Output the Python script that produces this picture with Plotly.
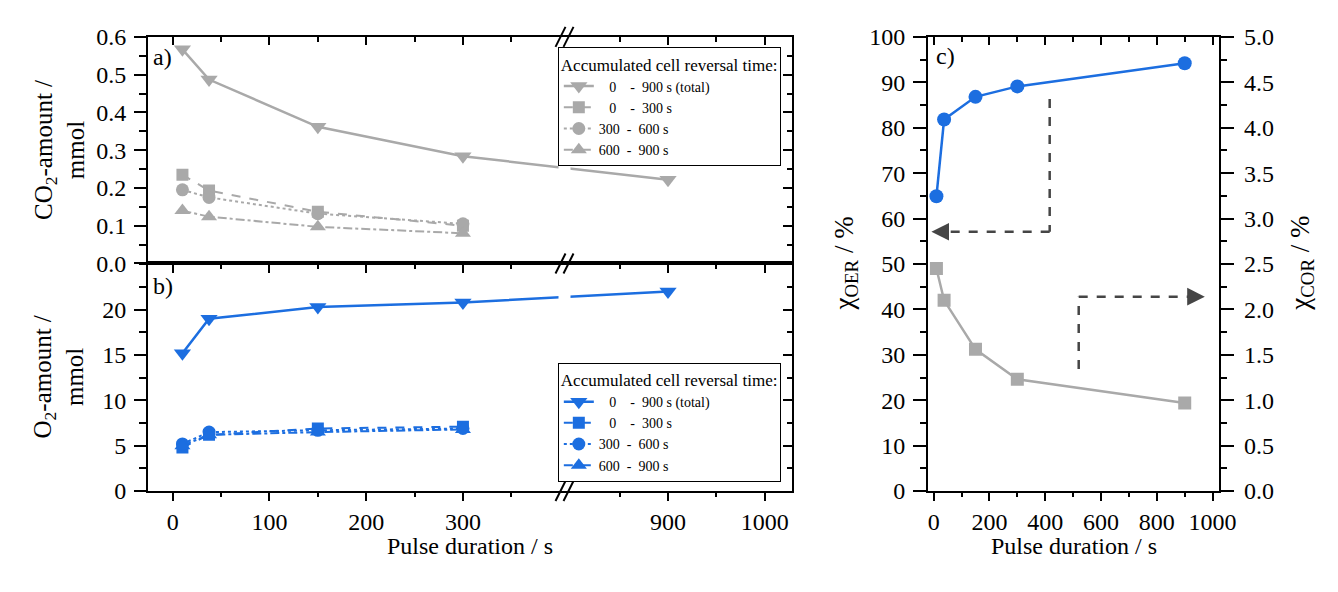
import plotly.graph_objects as go

# ---------------- data ----------------
pulse = [10, 37.5, 150, 300, 900]
pulse_part = [10, 37.5, 150, 300]

co2_total = [0.567, 0.487, 0.362, 0.284, 0.222]
co2_0_300 = [0.235, 0.193, 0.137, 0.100]
co2_300_600 = [0.195, 0.175, 0.132, 0.105]
co2_600_900 = [0.140, 0.124, 0.097, 0.080]

o2_total = [15.2, 19.0, 20.3, 20.8, 22.0]
o2_0_300 = [4.8, 6.2, 6.9, 7.1]
o2_300_600 = [5.2, 6.5, 6.7, 6.9]
o2_600_900 = [5.0, 6.2, 6.5, 6.8]

chi_oer = [64.9, 81.8, 86.8, 89.1, 94.2]
chi_cor = [2.45, 2.10, 1.56, 1.23, 0.97]

x_major = [0, 100, 200, 300, 900, 1000]
x_major_text = ["0", "100", "200", "300", "900", "1000"]
x_minor = [50, 150, 250, 350, 850, 950]

legend_names = [
    "\u00a0\u00a0\u00a00\u00a0\u00a0\u00a0\u00a0-\u00a0\u00a0900 s (total)",
    "\u00a0\u00a0\u00a00\u00a0\u00a0\u00a0\u00a0-\u00a0\u00a0300 s",
    "300\u00a0\u00a0-\u00a0\u00a0600 s",
    "600\u00a0\u00a0-\u00a0\u00a0900 s",
]
legend_title = "Accumulated cell reversal time:"

# ---------------- style ----------------
W, H = 1338, 592
FONT = "Liberation Serif"
GRAY = "#a9a9a9"
BLUE = "#1c6ee0"
ARROW = "#454545"
TICKSIZE = 24

# broken x axis (panels a, b)
BREAK_LO, BREAK_HI = 405, 793
def brk(v):
    return v if v <= BREAK_LO else v - (BREAK_HI - BREAK_LO)
XR_AB = [-25.5, 640]

def fx(px):
    return px / W
def fy(py):
    return 1 - py / H

DOM_AB_X = [fx(150), fx(802)]
DOM_A_Y = [fy(262), fy(25)]
DOM_B_Y = [fy(500), fy(262)]
DOM_C_X = [fx(940), fx(1235)]
DOM_C_Y = [fy(500), fy(25)]

fig = go.Figure()

def series(x, y, name, color, symbol, dash, width, size, xa, ya, leg):
    fig.add_trace(go.Scatter(
        x=[brk(v) for v in x], y=y, name=name, mode="lines+markers",
        line=dict(color=color, width=width, dash=dash),
        marker=dict(color=color, symbol=symbol, size=size),
        xaxis=xa, yaxis=ya, legend=leg))

# panel a
series(pulse, co2_total, legend_names[0], GRAY, "triangle-down", "solid", 2.5, 15, "x", "y", "legend")
series(pulse_part, co2_0_300, legend_names[1], GRAY, "square", "dash", 2, 12, "x", "y", "legend")
series(pulse_part, co2_300_600, legend_names[2], GRAY, "circle", "dot", 2, 13, "x", "y", "legend")
series(pulse_part, co2_600_900, legend_names[3], GRAY, "triangle-up", "dashdot", 2, 14, "x", "y", "legend")
# panel b
series(pulse, o2_total, legend_names[0], BLUE, "triangle-down", "solid", 2.5, 15, "x2", "y2", "legend2")
series(pulse_part, o2_0_300, legend_names[1], BLUE, "square", "dash", 2, 12, "x2", "y2", "legend2")
series(pulse_part, o2_300_600, legend_names[2], BLUE, "circle", "dot", 2, 13, "x2", "y2", "legend2")
series(pulse_part, o2_600_900, legend_names[3], BLUE, "triangle-up", "dashdot", 2, 14, "x2", "y2", "legend2")

# panel c
fig.add_trace(go.Scatter(x=pulse, y=chi_oer, mode="lines+markers", showlegend=False,
                         line=dict(color=BLUE, width=2.5), marker=dict(color=BLUE, size=14),
                         xaxis="x3", yaxis="y3"))
fig.add_trace(go.Scatter(x=pulse, y=chi_cor, mode="lines+markers", showlegend=False,
                         line=dict(color=GRAY, width=2.5),
                         marker=dict(color=GRAY, symbol="square", size=13),
                         xaxis="x3", yaxis="y4"))

# dummy traces so that the mirrored (inside-tick) axes are drawn
for xa, ya in [("x4", "y"), ("x", "y5"), ("x5", "y2"), ("x2", "y6"), ("x6", "y3")]:
    fig.add_trace(go.Scatter(x=[], y=[], xaxis=xa, yaxis=ya, showlegend=False, hoverinfo="skip"))

base = dict(showgrid=False, zeroline=False, showline=True, linecolor="black", linewidth=2,
            tickcolor="black", tickwidth=2,
            tickfont=dict(family=FONT, size=TICKSIZE, color="black"))

def mn(ticks, length, **kw):
    return dict(ticks=ticks, ticklen=length, tickwidth=2, tickcolor="black", **kw)

def xab(dom_anchor, labels, side="bottom", ticks="outside", overlay=None):
    major = 8
    minor = 4 if ticks == "outside" else 5
    d = dict(base, domain=DOM_AB_X, range=XR_AB, anchor=dom_anchor, side=side,
             tickmode="array", tickvals=[brk(v) for v in x_major], ticktext=x_major_text,
             showticklabels=labels, ticks=ticks, ticklen=major, ticklabelstandoff=0,
             minor=mn(ticks, minor, tickmode="array", tickvals=[brk(v) for v in x_minor]))
    if overlay:
        d["overlaying"] = overlay
    return d

layout = dict(
    width=W, height=H, margin=dict(l=0, r=0, t=0, b=0),
    plot_bgcolor="white", paper_bgcolor="white",
    font=dict(family=FONT, color="black"),
    xaxis=xab("y", False),
    xaxis2=xab("y2", True),
    xaxis4=xab("y", False, side="top", ticks="inside", overlay="x"),
    xaxis5=xab("y2", False, side="top", ticks="inside", overlay="x2"),
    yaxis=dict(base, domain=DOM_A_Y, range=[0, 0.6], anchor="x", dtick=0.1, tickformat=".1f",
               ticks="outside", ticklen=12, ticklabelstandoff=3, minor=mn("outside", 7, dtick=0.05)),
    yaxis5=dict(base, domain=DOM_A_Y, range=[0, 0.6], anchor="x", overlaying="y", side="right",
                dtick=0.1, ticks="inside", ticklen=9, showticklabels=False,
                minor=mn("inside", 5, dtick=0.05)),
    yaxis2=dict(base, domain=DOM_B_Y, range=[0, 25.1], anchor="x2", tickmode="array",
                tickvals=[0, 5, 10, 15, 20], ticks="outside", ticklen=12, ticklabelstandoff=3,
                minor=mn("outside", 7, dtick=2.5)),
    yaxis6=dict(base, domain=DOM_B_Y, range=[0, 25.1], anchor="x2", overlaying="y2", side="right",
                tickmode="array", tickvals=[0, 5, 10, 15, 20, 25], ticks="inside", ticklen=9,
                showticklabels=False, minor=mn("inside", 5, dtick=2.5)),
    xaxis3=dict(base, domain=DOM_C_X, range=[-20, 1024], anchor="y3", dtick=200, ticks="outside",
                ticklen=8, ticklabelstandoff=0, minor=mn("outside", 4, dtick=100)),
    xaxis6=dict(base, domain=DOM_C_X, range=[-20, 1024], anchor="y3", overlaying="x3", side="top",
                dtick=200, ticks="inside", ticklen=8, showticklabels=False,
                minor=mn("inside", 5, dtick=100)),
    yaxis3=dict(base, domain=DOM_C_Y, range=[0, 100], anchor="x3", dtick=10, ticks="outside",
                ticklen=13, ticklabelstandoff=3, minor=mn("outside", 6, dtick=5)),
    yaxis4=dict(base, domain=DOM_C_Y, range=[0, 5], anchor="x3", overlaying="y3", side="right",
                dtick=0.5, tickformat=".1f", ticks="outside", ticklen=13, ticklabelstandoff=5,
                minor=mn("outside", 6, dtick=0.25)),
    legend=dict(x=fx(565), y=fy(36), xanchor="left", yanchor="top", bgcolor="white",
                bordercolor="black", borderwidth=1, font=dict(family=FONT, size=14, color="black"),
                title=dict(text=legend_title, font=dict(family=FONT, size=17)),
                tracegroupgap=0, itemwidth=30),
    legend2=dict(x=fx(565), y=fy(366), xanchor="left", yanchor="top", bgcolor="white",
                 bordercolor="black", borderwidth=1, font=dict(family=FONT, size=14, color="black"),
                 title=dict(text=legend_title, font=dict(family=FONT, size=17)),
                 tracegroupgap=0, itemwidth=30),
)
fig.update_layout(**layout)

# ---------------- decorations ----------------
shapes = []
# gap in the lines at the axis break
for yref in ["y domain", "y2 domain"]:
    shapes.append(dict(type="rect", xref="x", yref=yref, xsizemode="pixel", xanchor=BREAK_LO,
                       x0=-6, x1=6, y0=0.04, y1=0.96, fillcolor="white", line=dict(width=0),
                       layer="above"))
# '//' break markers on the horizontal axis lines
for yref, yv in [("y domain", 1), ("y domain", 0), ("y2 domain", 0)]:
    for off in (-4, 4):
        shapes.append(dict(type="line", xref="x", yref=yref, xsizemode="pixel", xanchor=BREAK_LO,
                           ysizemode="pixel", yanchor=yv, x0=off - 5, x1=off + 5, y0=-10, y1=10,
                           line=dict(color="black", width=2)))
# dashed arrows in panel c
dash_line = dict(color=ARROW, width=2.5, dash="dash")
shapes += [
    dict(type="line", xref="x3", yref="y3", x0=416, x1=416, y0=86.3, y1=57.1, line=dash_line),
    dict(type="line", xref="x3", yref="y3", x0=416, x1=5, y0=57.1, y1=57.1, line=dash_line),
    dict(type="line", xref="x3", yref="y3", x0=520, x1=520, y0=26.9, y1=42.8, line=dash_line),
    dict(type="line", xref="x3", yref="y3", x0=520, x1=945, y0=42.8, y1=42.8, line=dash_line),
]
fig.update_layout(shapes=shapes)

ann = []
ann.append(dict(x=-8, y=57.1, ax=20, ay=57.1, xref="x3", yref="y3", axref="x3", ayref="y3",
                text="", showarrow=True, arrowhead=2, arrowsize=1.6, arrowwidth=2.2, arrowcolor=ARROW))
ann.append(dict(x=972, y=42.8, ax=940, ay=42.8, xref="x3", yref="y3", axref="x3", ayref="y3",
                text="", showarrow=True, arrowhead=2, arrowsize=1.6, arrowwidth=2.2, arrowcolor=ARROW))

def txt(x, y, t, size, angle=0, xanchor="center"):
    ann.append(dict(x=fx(x), y=fy(y), xref="paper", yref="paper", text=t, showarrow=False,
                    textangle=angle, xanchor=xanchor, yanchor="middle",
                    font=dict(family=FONT, size=size, color="black")))

txt(153, 46, "a)", 24, xanchor="left")
txt(153, 286, "b)", 24, xanchor="left")
txt(946, 45, "c)", 24, xanchor="left")
txt(60, 143, "CO<sub>2</sub>-amount /<br>mmol", 25, angle=-90)
txt(60, 381, "O<sub>2</sub>-amount /<br>mmol", 25, angle=-90)
txt(476, 558, "Pulse duration / s", 24)
txt(1088, 558, "Pulse duration / s", 24)
txt(857, 262, "\u03c7<sub>OER</sub> / %", 27, angle=-90)
txt(1319, 262, "\u03c7<sub>COR</sub> / %", 27, angle=-90)
fig.update_layout(annotations=ann)

fig.write_html("out.html")
